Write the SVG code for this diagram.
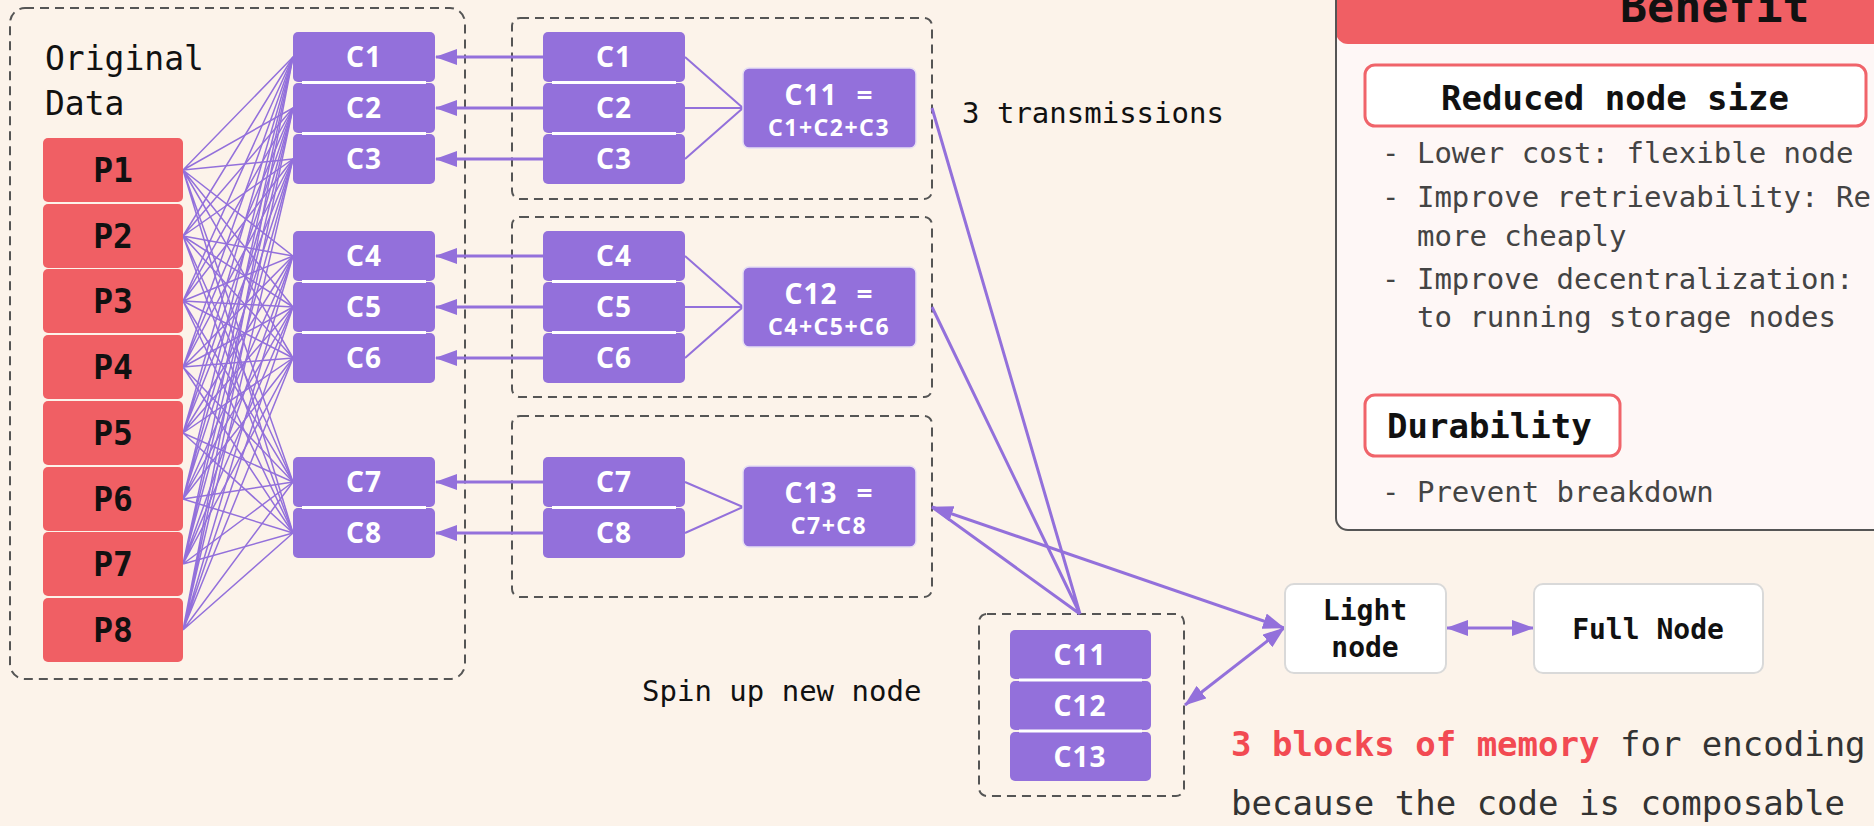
<svg xmlns="http://www.w3.org/2000/svg" width="1874" height="826" viewBox="0 0 1874 826">
  <style>
    .mono { font-family: "DejaVu Sans Mono", "Liberation Mono", monospace; }
    .sans { font-family: "Noto Sans", "Open Sans", sans-serif; font-weight: bold; fill: #ffffff; }
    .dash { fill: none; stroke: #555555; stroke-width: 2; stroke-dasharray: 9 6; }
    .pbox { fill: #F05F64; }
    .cbox { fill: #9370DB; }
    .sep { stroke: #ffffff; stroke-width: 3; }
    .plabel { font-family: "DejaVu Sans Mono", monospace; font-weight: bold; font-size: 33px; fill: #111111; text-anchor: middle; }
    .clabel { font-size: 28px; letter-spacing: 1px; text-anchor: middle; }
    .sum { font-size: 28px; letter-spacing: 1px; }
    .terms { font-size: 23px; letter-spacing: 1.5px; text-anchor: middle; }
    .mesh { fill: none; stroke: #9370DB; stroke-width: 1.5; }
    .link { fill: none; stroke: #9370DB; stroke-width: 3; }
    .thin { fill: none; stroke: #9370DB; stroke-width: 2; }
    .wbox { fill: #ffffff; stroke: #D9D9D9; stroke-width: 2; }
    .bullet { font-family: "DejaVu Sans Mono", monospace; font-size: 29px; fill: #444444; }
    .head { font-family: "DejaVu Sans Mono", monospace; font-weight: bold; font-size: 34px; fill: #111111; }
  </style>
  <defs>
    <marker id="arrow" markerUnits="userSpaceOnUse" markerWidth="22" markerHeight="16" refX="21" refY="8" orient="auto-start-reverse">
      <path d="M0,0 L22,8 L0,16 z" fill="#9370DB"/>
    </marker>
  </defs>

  <rect x="0" y="0" width="1874" height="826" fill="#FCF3EA"/>

  <!-- group frames -->
  <g id="frames">
    <rect class="dash" x="10" y="8" width="455" height="671" rx="15"/>
    <rect class="dash" x="512" y="18" width="420" height="181" rx="8"/>
    <rect class="dash" x="512" y="217" width="420" height="180" rx="8"/>
    <rect class="dash" x="512" y="416" width="420" height="181" rx="8"/>
    <rect class="dash" x="979" y="614" width="205" height="182" rx="8"/>
  </g>

  <!-- connectors -->
  <g id="connectors">
    <path class="mesh" d="M183 170L293 57M183 170L293 108M183 170L293 159M183 170L293 256M183 170L293 307M183 170L293 358M183 170L293 482M183 170L293 533"/>
    <path class="mesh" d="M183 236L293 57M183 236L293 108M183 236L293 159M183 236L293 256M183 236L293 307M183 236L293 358M183 236L293 482M183 236L293 533"/>
    <path class="mesh" d="M183 301L293 57M183 301L293 108M183 301L293 159M183 301L293 256M183 301L293 307M183 301L293 358M183 301L293 482M183 301L293 533"/>
    <path class="mesh" d="M183 367L293 57M183 367L293 108M183 367L293 159M183 367L293 256M183 367L293 307M183 367L293 358M183 367L293 482M183 367L293 533"/>
    <path class="mesh" d="M183 433L293 57M183 433L293 108M183 433L293 159M183 433L293 256M183 433L293 307M183 433L293 358M183 433L293 482M183 433L293 533"/>
    <path class="mesh" d="M183 499L293 57M183 499L293 108M183 499L293 159M183 499L293 256M183 499L293 307M183 499L293 358M183 499L293 482M183 499L293 533"/>
    <path class="mesh" d="M183 564L293 57M183 564L293 108M183 564L293 159M183 564L293 256M183 564L293 307M183 564L293 358M183 564L293 482M183 564L293 533"/>
    <path class="mesh" d="M183 630L293 57M183 630L293 108M183 630L293 159M183 630L293 256M183 630L293 307M183 630L293 358M183 630L293 482M183 630L293 533"/>

    <!-- copies sent back to the first column -->
    <line class="link" x1="543" y1="57" x2="436" y2="57" marker-end="url(#arrow)"/>
    <line class="link" x1="543" y1="108" x2="436" y2="108" marker-end="url(#arrow)"/>
    <line class="link" x1="543" y1="159" x2="436" y2="159" marker-end="url(#arrow)"/>
    <line class="link" x1="543" y1="256" x2="436" y2="256" marker-end="url(#arrow)"/>
    <line class="link" x1="543" y1="307" x2="436" y2="307" marker-end="url(#arrow)"/>
    <line class="link" x1="543" y1="358" x2="436" y2="358" marker-end="url(#arrow)"/>
    <line class="link" x1="543" y1="482" x2="436" y2="482" marker-end="url(#arrow)"/>
    <line class="link" x1="543" y1="533" x2="436" y2="533" marker-end="url(#arrow)"/>

    <!-- combining into the sums -->
    <path class="thin" d="M685 57L743 108M685 108L743 108M685 159L743 108"/>
    <path class="thin" d="M685 256L743 307M685 307L743 307M685 358L743 307"/>
    <path class="thin" d="M685 482L743 507M685 533L743 507"/>

    <!-- transmissions to the new node -->
    <path class="link" d="M932 108L1080 614M932 307L1080 614M932 507L1080 614"/>
    <line class="link" x1="932" y1="507" x2="1284" y2="628" marker-start="url(#arrow)" marker-end="url(#arrow)"/>
    <line class="link" x1="1185" y1="705" x2="1284" y2="628" marker-start="url(#arrow)" marker-end="url(#arrow)"/>
    <line class="link" x1="1447" y1="628" x2="1533" y2="628" marker-start="url(#arrow)" marker-end="url(#arrow)"/>
  </g>

  <!-- original data -->
  <g id="original-data">
    <text class="mono" x="45" y="70" font-size="33" fill="#111111">Original</text>
    <text class="mono" x="45" y="115" font-size="33" fill="#111111">Data</text>
  </g>
  <g id="p1"><rect class="pbox" x="43" y="138" width="140" height="64" rx="5"/><text class="plabel" x="113" y="182">P1</text></g>
  <g id="p2"><rect class="pbox" x="43" y="204" width="140" height="64" rx="5"/><text class="plabel" x="113" y="248">P2</text></g>
  <g id="p3"><rect class="pbox" x="43" y="269" width="140" height="64" rx="5"/><text class="plabel" x="113" y="313">P3</text></g>
  <g id="p4"><rect class="pbox" x="43" y="335" width="140" height="64" rx="5"/><text class="plabel" x="113" y="379">P4</text></g>
  <g id="p5"><rect class="pbox" x="43" y="401" width="140" height="64" rx="5"/><text class="plabel" x="113" y="445">P5</text></g>
  <g id="p6"><rect class="pbox" x="43" y="467" width="140" height="64" rx="5"/><text class="plabel" x="113" y="511">P6</text></g>
  <g id="p7"><rect class="pbox" x="43" y="532" width="140" height="64" rx="5"/><text class="plabel" x="113" y="576">P7</text></g>
  <g id="p8"><rect class="pbox" x="43" y="598" width="140" height="64" rx="5"/><text class="plabel" x="113" y="642">P8</text></g>

  <!-- coded chunks, first column -->
  <g id="col-c1"><rect class="cbox" x="293" y="32" width="142" height="50" rx="5"/><text class="sans clabel" x="364" y="67">C1</text></g>
  <g id="col-c2"><rect class="cbox" x="293" y="83" width="142" height="50" rx="5"/><text class="sans clabel" x="364" y="118">C2</text></g>
  <g id="col-c3"><rect class="cbox" x="293" y="134" width="142" height="50" rx="5"/><text class="sans clabel" x="364" y="169">C3</text></g>
  <g id="col-c4"><rect class="cbox" x="293" y="231" width="142" height="50" rx="5"/><text class="sans clabel" x="364" y="266">C4</text></g>
  <g id="col-c5"><rect class="cbox" x="293" y="282" width="142" height="50" rx="5"/><text class="sans clabel" x="364" y="317">C5</text></g>
  <g id="col-c6"><rect class="cbox" x="293" y="333" width="142" height="50" rx="5"/><text class="sans clabel" x="364" y="368">C6</text></g>
  <g id="col-c7"><rect class="cbox" x="293" y="457" width="142" height="50" rx="5"/><text class="sans clabel" x="364" y="492">C7</text></g>
  <g id="col-c8"><rect class="cbox" x="293" y="508" width="142" height="50" rx="5"/><text class="sans clabel" x="364" y="543">C8</text></g>
  <path class="sep" d="M302 82.5H426M302 133.5H426M302 281.5H426M302 332.5H426M302 507.5H426"/>

  <!-- coded chunks, second column -->
  <g id="c1"><rect class="cbox" x="543" y="32" width="142" height="50" rx="5"/><text class="sans clabel" x="614" y="67">C1</text></g>
  <g id="c2"><rect class="cbox" x="543" y="83" width="142" height="50" rx="5"/><text class="sans clabel" x="614" y="118">C2</text></g>
  <g id="c3"><rect class="cbox" x="543" y="134" width="142" height="50" rx="5"/><text class="sans clabel" x="614" y="169">C3</text></g>
  <g id="c4"><rect class="cbox" x="543" y="231" width="142" height="50" rx="5"/><text class="sans clabel" x="614" y="266">C4</text></g>
  <g id="c5"><rect class="cbox" x="543" y="282" width="142" height="50" rx="5"/><text class="sans clabel" x="614" y="317">C5</text></g>
  <g id="c6"><rect class="cbox" x="543" y="333" width="142" height="50" rx="5"/><text class="sans clabel" x="614" y="368">C6</text></g>
  <g id="c7"><rect class="cbox" x="543" y="457" width="142" height="50" rx="5"/><text class="sans clabel" x="614" y="492">C7</text></g>
  <g id="c8"><rect class="cbox" x="543" y="508" width="142" height="50" rx="5"/><text class="sans clabel" x="614" y="543">C8</text></g>
  <path class="sep" d="M552 82.5H676M552 133.5H676M552 281.5H676M552 332.5H676M552 507.5H676"/>

  <!-- sums -->
  <g id="c11">
    <rect class="cbox" x="743" y="68" width="173" height="80" rx="6" stroke="#E6DEF3" stroke-width="1.5"/>
    <text class="sans sum"><tspan x="811" y="105" text-anchor="middle">C11</tspan><tspan x="865" y="105" text-anchor="middle">=</tspan></text>
    <text class="sans terms" x="829" y="136">C1+C2+C3</text>
  </g>
  <g id="c12">
    <rect class="cbox" x="743" y="267" width="173" height="80" rx="6" stroke="#E6DEF3" stroke-width="1.5"/>
    <text class="sans sum"><tspan x="811" y="304" text-anchor="middle">C12</tspan><tspan x="865" y="304" text-anchor="middle">=</tspan></text>
    <text class="sans terms" x="829" y="335">C4+C5+C6</text>
  </g>
  <g id="c13">
    <rect class="cbox" x="743" y="466" width="173" height="81" rx="6" stroke="#E6DEF3" stroke-width="1.5"/>
    <text class="sans sum"><tspan x="811" y="503" text-anchor="middle">C13</tspan><tspan x="865" y="503" text-anchor="middle">=</tspan></text>
    <text class="sans terms" x="829" y="534">C7+C8</text>
  </g>

  <!-- new node storing the sums -->
  <g id="new-node">
    <rect class="cbox" x="1010" y="630" width="141" height="49" rx="5"/>
    <rect class="cbox" x="1010" y="681" width="141" height="49" rx="5"/>
    <rect class="cbox" x="1010" y="732" width="141" height="49" rx="5"/>
    <path class="sep" d="M1019 680H1142M1019 731H1142"/>
    <text class="sans clabel" x="1080" y="665">C11</text>
    <text class="sans clabel" x="1080" y="716">C12</text>
    <text class="sans clabel" x="1080" y="767">C13</text>
  </g>

  <g id="light-node">
    <rect class="wbox" x="1285" y="584" width="161" height="89" rx="9"/>
    <text class="mono" x="1365" y="620" font-size="28" font-weight="bold" fill="#111111" text-anchor="middle">Light</text>
    <text class="mono" x="1365" y="657" font-size="28" font-weight="bold" fill="#111111" text-anchor="middle">node</text>
  </g>
  <g id="full-node">
    <rect class="wbox" x="1534" y="584" width="229" height="89" rx="9"/>
    <text class="mono" x="1648" y="639" font-size="28" font-weight="bold" fill="#111111" text-anchor="middle">Full Node</text>
  </g>

  <!-- captions -->
  <g id="captions">
    <text class="mono" x="962" y="123" font-size="29" fill="#111111">3 transmissions</text>
    <text class="mono" x="642" y="701" font-size="29" fill="#111111">Spin up new node</text>
    <text class="mono" x="1231" y="756" font-size="34" fill="#333333"><tspan fill="#F24A52" font-weight="bold">3 blocks of memory</tspan> for encoding</text>
    <text class="mono" x="1231" y="815" font-size="34" fill="#333333">because the code is composable</text>
  </g>

  <!-- benefit panel -->
  <g id="benefit">
    <rect x="1336" y="-40" width="600" height="570" rx="12" fill="#FEF7F6"/>
    <rect x="1336" y="-40" width="600" height="84" rx="12" fill="#F05F64"/>
    <rect x="1336" y="-40" width="600" height="570" rx="12" fill="none" stroke="#555555" stroke-width="2"/>
    <text class="mono" x="1620" y="22" font-size="45" font-weight="bold" fill="#111111">Benefit</text>

    <rect x="1365" y="65" width="501" height="61" rx="10" fill="#FFFFFF" stroke="#F0646A" stroke-width="3"/>
    <text class="head" x="1615" y="110" text-anchor="middle">Reduced node size</text>
    <text class="bullet" x="1382" y="163">- Lower cost: flexible node</text>
    <text class="bullet" x="1382" y="207">- Improve retrievability: Re</text>
    <text class="bullet" x="1417" y="246">more cheaply</text>
    <text class="bullet" x="1382" y="289">- Improve decentralization:</text>
    <text class="bullet" x="1417" y="327">to running storage nodes</text>

    <rect x="1365" y="395" width="255" height="61" rx="10" fill="#FFFFFF" stroke="#F0646A" stroke-width="3"/>
    <text class="head" x="1387" y="438">Durability</text>
    <text class="bullet" x="1382" y="502">- Prevent breakdown</text>
  </g>
</svg>
